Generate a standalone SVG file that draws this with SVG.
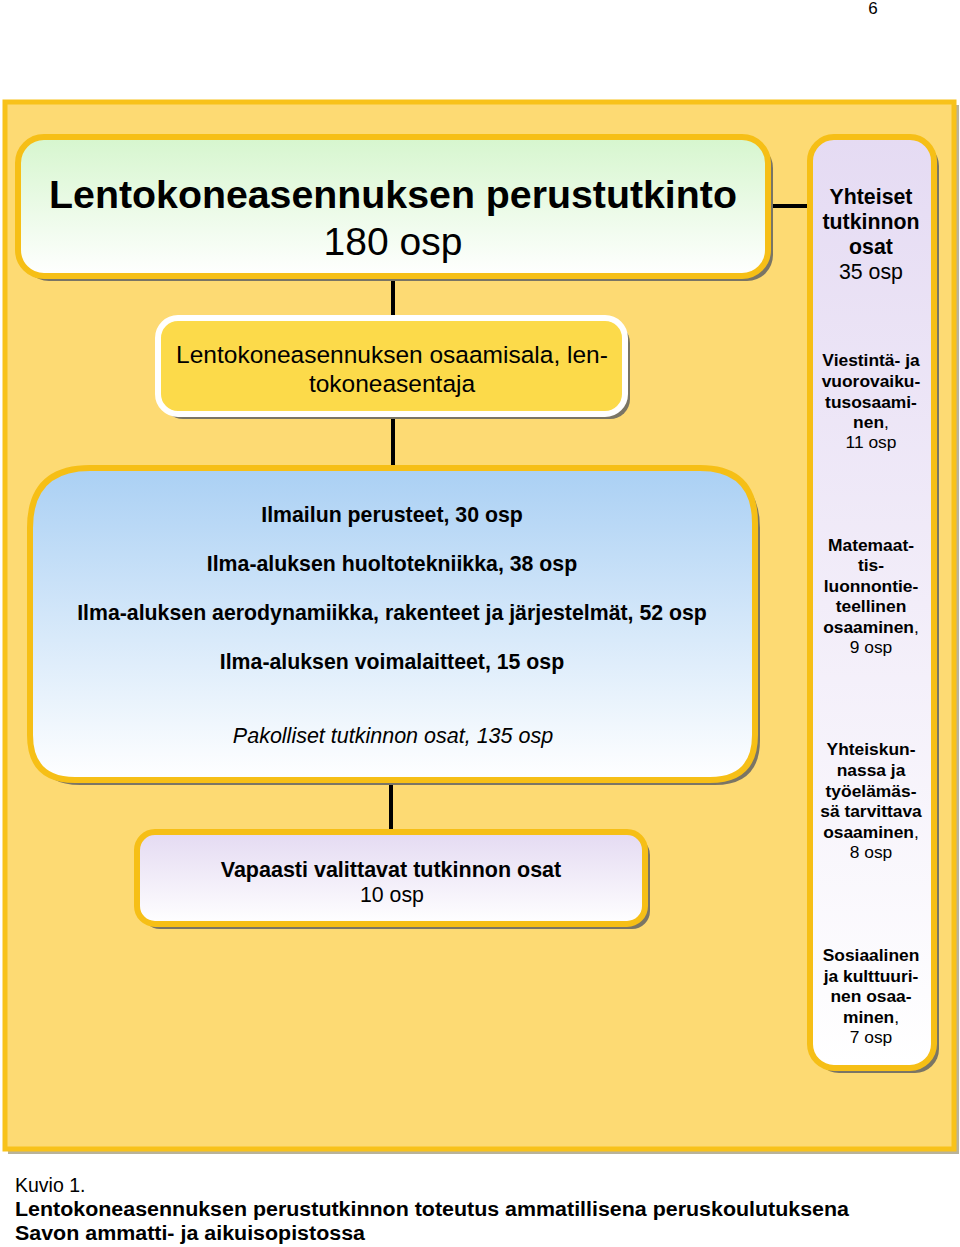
<svg xmlns="http://www.w3.org/2000/svg" width="960" height="1247" viewBox="0 0 960 1247">
<defs>
<linearGradient id="gGreen" x1="0" y1="0" x2="0" y2="1"><stop offset="0" stop-color="#D6F6CE"/><stop offset="1" stop-color="#FFFFFF"/></linearGradient>
<linearGradient id="gLav" x1="0" y1="0" x2="0" y2="1"><stop offset="0" stop-color="#E5DBF3"/><stop offset="1" stop-color="#FFFFFF"/></linearGradient>
<linearGradient id="gBlue" x1="0" y1="0" x2="0" y2="1"><stop offset="0" stop-color="#AAD0F4"/><stop offset="1" stop-color="#FFFFFF"/></linearGradient>
<linearGradient id="gLav2" x1="0" y1="0" x2="0" y2="1"><stop offset="0" stop-color="#E4DAF2"/><stop offset="1" stop-color="#FFFFFF"/></linearGradient>
</defs>
<style>
text{font-family:"Liberation Sans",Arial,sans-serif;fill:#000}
.c{text-anchor:middle}
.b{font-weight:bold}
.shadow{fill:#7A7565}
.box{stroke:#F6BF16;stroke-width:6}
.conn{stroke:#000;stroke-width:4;fill:none}
</style>
<rect width="960" height="1247" fill="#FFFFFF"/>
<text x="873" y="14" class="c" font-size="17">6</text>

<g id="frame">
<rect x="8" y="105" width="951" height="1049" fill="#B9B39A"/>
<rect x="5" y="102" width="949" height="1047" fill="#FDDA73" stroke="#F8C21A" stroke-width="5"/>
</g>

<g id="connectors">
<line class="conn" x1="393" y1="278" x2="393" y2="318"/>
<line class="conn" x1="393" y1="416" x2="393" y2="468"/>
<line class="conn" x1="391" y1="782" x2="391" y2="832"/>
<line class="conn" x1="770" y1="206" x2="809" y2="206"/>
</g>

<g id="top">
<rect class="shadow" x="23" y="142" width="750" height="139" rx="26"/>
<rect class="box" x="18" y="137" width="750" height="139" rx="26" fill="url(#gGreen)"/>
<text x="393" y="208" class="c b" font-size="39.3">Lentokoneasennuksen perustutkinto</text>
<text x="393" y="255" class="c" font-size="39">180 osp</text>
</g>

<g id="osaamisala">
<rect class="shadow" x="163" y="323" width="467" height="96" rx="20"/>
<rect x="158" y="318" width="467" height="96" rx="20" fill="#FCDA4A" stroke="#FFFFFF" stroke-width="6"/>
<text x="392" y="363" class="c" font-size="24.5">Lentokoneasennuksen osaamisala, len-</text>
<text x="392" y="392" class="c" font-size="24.5">tokoneasentaja</text>
</g>

<g id="pakolliset">
<path class="shadow" d="M95 473 H705 Q760 473 760 528 V740 Q760 785 715 785 H80 Q35 785 35 740 V533 Q35 473 95 473 Z"/>
<path class="box" fill="url(#gBlue)" d="M90 468 H700 Q755 468 755 523 V735 Q755 780 710 780 H75 Q30 780 30 735 V528 Q30 468 90 468 Z"/>
<text x="392" y="522" class="c b" font-size="21.3">Ilmailun perusteet, 30 osp</text>
<text x="392" y="571" class="c b" font-size="21.3">Ilma-aluksen huoltotekniikka, 38 osp</text>
<text x="392" y="620" class="c b" font-size="21.3">Ilma-aluksen aerodynamiikka, rakenteet ja järjestelmät, 52 osp</text>
<text x="392" y="669" class="c b" font-size="21.3">Ilma-aluksen voimalaitteet, 15 osp</text>
<text x="393" y="743" class="c" font-size="21.5" font-style="italic">Pakolliset tutkinnon osat, 135 osp</text>
</g>

<g id="vapaasti">
<rect class="shadow" x="142" y="837" width="508" height="92" rx="18"/>
<rect class="box" x="137" y="832" width="508" height="92" rx="18" fill="url(#gLav2)"/>
<text x="391" y="877" class="c b" font-size="21.5">Vapaasti valittavat tutkinnon osat</text>
<text x="392" y="902" class="c" font-size="21.3">10 osp</text>
</g>

<g id="yhteiset">
<rect class="shadow" x="815" y="142" width="124" height="931" rx="24"/>
<rect class="box" x="810" y="137" width="124" height="931" rx="24" fill="url(#gLav)"/>
<g font-size="21.3" class="c">
<text x="871" y="204" class="c b">Yhteiset</text>
<text x="871" y="229" class="c b">tutkinnon</text>
<text x="871" y="254" class="c b">osat</text>
<text x="871" y="279" class="c">35 osp</text>
</g>
<g font-size="17.4">
<text x="871" y="366" class="c b">Viestintä- ja</text>
<text x="871" y="387" class="c b">vuorovaiku-</text>
<text x="871" y="408" class="c b">tusosaami-</text>
<text x="871" y="428" class="c"><tspan class="b">nen</tspan>,</text>
<text x="871" y="448" class="c">11 osp</text>

<text x="871" y="551" class="c b">Matemaat-</text>
<text x="871" y="571" class="c b">tis-</text>
<text x="871" y="592" class="c b">luonnontie-</text>
<text x="871" y="612" class="c b">teellinen</text>
<text x="871" y="633" class="c"><tspan class="b">osaaminen</tspan>,</text>
<text x="871" y="653" class="c">9 osp</text>

<text x="871" y="755" class="c b">Yhteiskun-</text>
<text x="871" y="776" class="c b">nassa ja</text>
<text x="871" y="797" class="c b">työelämäs-</text>
<text x="871" y="817" class="c b">sä tarvittava</text>
<text x="871" y="838" class="c"><tspan class="b">osaaminen</tspan>,</text>
<text x="871" y="858" class="c">8 osp</text>

<text x="871" y="961" class="c b">Sosiaalinen</text>
<text x="871" y="982" class="c b">ja kulttuuri-</text>
<text x="871" y="1002" class="c b">nen osaa-</text>
<text x="871" y="1023" class="c"><tspan class="b">minen</tspan>,</text>
<text x="871" y="1043" class="c">7 osp</text>
</g>
</g>

<g id="caption">
<text x="15" y="1192" font-size="19.5">Kuvio 1.</text>
<text x="15" y="1216" font-size="20" class="b" textLength="834" lengthAdjust="spacingAndGlyphs">Lentokoneasennuksen perustutkinnon toteutus ammatillisena peruskoulutuksena</text>
<text x="15" y="1240" font-size="20" class="b" textLength="350" lengthAdjust="spacingAndGlyphs">Savon ammatti- ja aikuisopistossa</text>
</g>
</svg>
